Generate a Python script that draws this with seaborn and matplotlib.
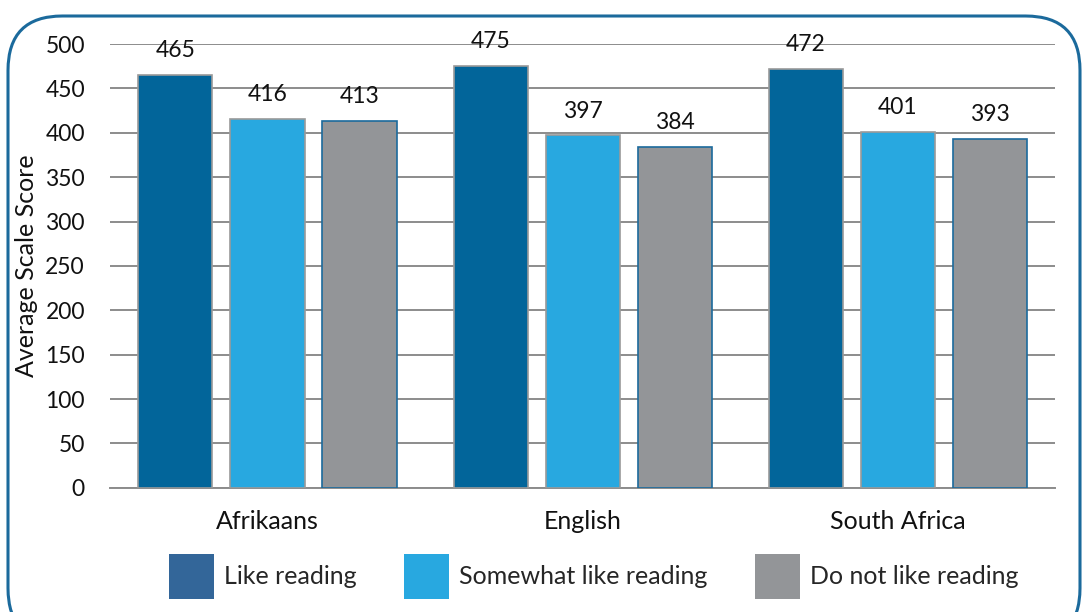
import matplotlib
matplotlib.use("Agg")
import matplotlib.pyplot as plt
from matplotlib.patches import FancyBboxPatch, Patch
import seaborn as sns
import pandas as pd

# Chart data
groups = ["Afrikaans", "English", "South Africa"]
series = ["Like reading", "Somewhat like reading", "Do not like reading"]
like_reading = [465, 475, 472]
somewhat_like = [416, 397, 401]
do_not_like = [413, 384, 393]
y_ticks = [0, 50, 100, 150, 200, 250, 300, 350, 400, 450, 500]

bar_colors = ["#02659A", "#28A8E0", "#939598"]
edge_colors = ["#9A9A9A", "#9A9A9A", "#1B6A9C"]
legend_colors = ["#336699", "#28A8E0", "#939598"]

rows = []
for name, vals in zip(series, [like_reading, somewhat_like, do_not_like]):
    for g, v in zip(groups, vals):
        rows.append({"Group": g, "Series": name, "Score": v})
df = pd.DataFrame(rows)

sns.set_theme(style="white")
plt.rcParams["font.family"] = ["Lato", "DejaVu Sans"]

FS_NUM = 16.5
FS_TXT = 18

fig = plt.figure(figsize=(10.88, 6.12), dpi=100)
ax = fig.add_axes([0.101, 0.203, 0.869, 0.725])

sns.barplot(data=df, x="Group", y="Score", hue="Series", order=groups,
            hue_order=series, palette=bar_colors, width=0.876, gap=0.195,
            saturation=1, legend=False, ax=ax, zorder=3)

for cont, ec in zip(ax.containers, edge_colors):
    for bar in cont:
        bar.set_edgecolor(ec)
        bar.set_linewidth(1.2)
    ax.bar_label(cont, fmt="%d", padding=10, fontsize=FS_NUM, color="#111111")

ax.set_ylim(0, 500)
ax.set_xlim(-0.5, 2.5)
ax.set_yticks(y_ticks)
ax.yaxis.grid(True, color="#8C8C8C", linewidth=1.4, zorder=0)
ax.set_axisbelow(True)
for side in ["top", "right", "left"]:
    ax.spines[side].set_visible(False)
ax.spines["bottom"].set_color("#8C8C8C")
ax.spines["bottom"].set_linewidth(1.4)
ax.tick_params(axis="both", length=0, colors="#111111")
ax.tick_params(axis="y", pad=18, labelsize=FS_NUM)
ax.tick_params(axis="x", pad=16, labelsize=FS_TXT)
ax.set_xlabel("")
ax.set_ylabel("Average Scale Score", fontsize=FS_TXT, color="#111111", labelpad=5)

handles = [Patch(facecolor=c, edgecolor="none") for c in legend_colors]
fig.legend(handles, series, loc="center", bbox_to_anchor=(0.546, 0.058), ncol=3,
           frameon=False, fontsize=FS_TXT, handlelength=1.8, handleheight=2.35,
           handletextpad=0.4, columnspacing=1.9)

# Rounded frame around the chart
frame = FancyBboxPatch((8 / 1088, -0.05), 1072 / 1088, 1.05 - 16 / 612,
                       boxstyle="round,pad=0,rounding_size=0.05",
                       transform=fig.transFigure, fill=False,
                       edgecolor="#1B6A9C", linewidth=2.2, mutation_aspect=1088 / 612)
fig.patches.append(frame)

fig.savefig("out.png", dpi=100)
